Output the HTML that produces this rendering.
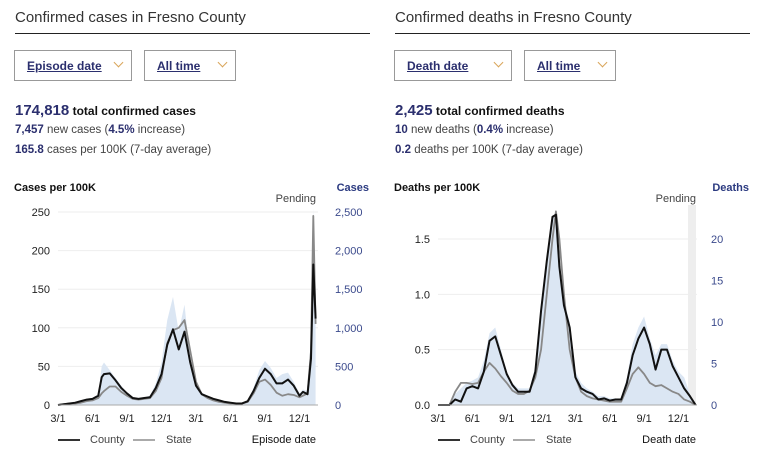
<!DOCTYPE html>
<html><head><meta charset="utf-8"><style>
body{margin:0;width:758px;height:462px;background:#fff;font-family:"Liberation Sans",sans-serif;position:relative;overflow:hidden}
.abs{position:absolute}
.title{font-size:15px;color:#333}
.rule{height:1px;background:#222}
.dd{border:1px solid #999;height:31px;box-sizing:border-box;font-size:12px;font-weight:bold;color:#2b2f6e}
.dd span{position:absolute;top:8px;text-decoration:underline}
.dd i{position:absolute;top:8px;width:6px;height:6px;border-right:1.5px solid #d9a55a;border-bottom:1.5px solid #d9a55a;transform:rotate(45deg)}
.s1{font-size:12px;font-weight:bold;color:#111}
.s1 b{font-size:15px;color:#2b2f6e}
.s2{font-size:11.5px;color:#444}
.s2 b{color:#2b2f6e}
svg text{font-family:"Liberation Sans",sans-serif}
</style></head><body>
<div class="abs title" style="left:15px;top:9px">Confirmed cases in Fresno County</div>
<div class="abs rule" style="left:15px;top:33px;width:355px"></div>
<div class="abs dd" style="left:14px;top:50px;width:118px"><span style="left:12px">Episode date</span><i style="left:100px"></i></div>
<div class="abs dd" style="left:144px;top:50px;width:92px"><span style="left:12px">All time</span><i style="left:74px"></i></div>
<div class="abs s1" style="left:15px;top:102px"><b>174,818</b> total confirmed cases</div>
<div class="abs s2" style="left:15px;top:124px"><b>7,457</b> new cases (<b>4.5%</b> increase)</div>
<div class="abs s2" style="left:15px;top:144px"><b>165.8</b> cases per 100K (7-day average)</div>

<div class="abs title" style="left:395px;top:9px">Confirmed deaths in Fresno County</div>
<div class="abs rule" style="left:395px;top:33px;width:355px"></div>
<div class="abs dd" style="left:394px;top:50px;width:118px"><span style="left:12px">Death date</span><i style="left:100px"></i></div>
<div class="abs dd" style="left:524px;top:50px;width:92px"><span style="left:12px">All time</span><i style="left:74px"></i></div>
<div class="abs s1" style="left:395px;top:102px"><b>2,425</b> total confirmed deaths</div>
<div class="abs s2" style="left:395px;top:124px"><b>10</b> new deaths (<b>0.4%</b> increase)</div>
<div class="abs s2" style="left:395px;top:144px"><b>0.2</b> deaths per 100K (7-day average)</div>

<svg class="abs" style="left:0;top:0" width="758" height="462" id="svg"></svg>
<script>
const xTickLabels=["3/1","6/1","9/1","12/1","3/1","6/1","9/1","12/1"];
const xTickMonths=[0,3,6,9,12,15,18,21];
const casesMonths=[0,0.5,1,1.5,2,2.5,3,3.5,3.8,4,4.5,5,5.5,6,6.5,7,7.5,8,8.5,9,9.5,10,10.5,11,11.5,12,12.5,13,13.5,14,14.5,15,15.5,16,16.5,17,17.5,18,18.5,19,19.5,20,20.5,21,21.3,21.7,22,22.2,22.4];
const casesCounty=[0,1,2,3,5,7,8,12,36,40,41,32,22,15,9,8,9,10,22,40,78,98,72,95,55,25,14,11,8,6,4,3,2,2,5,18,35,47,40,28,28,33,25,12,17,14,60,182,112];
const casesState=[0,1,2,2,3,5,6,9,15,18,24,24,17,12,8,7,8,9,18,35,80,97,100,110,70,30,14,9,6,4,3,2,2,2,4,15,30,33,26,16,12,14,13,10,12,15,70,245,105];
const casesBars=[0,1,2,4,6,8,9,14,50,55,45,35,25,16,10,9,10,12,28,55,110,140,95,130,60,28,16,12,9,6,4,3,2,2,6,22,45,57,48,35,40,42,30,15,20,18,90,255,105];
const deathsMonths=[0,0.5,1,1.5,2,2.5,3,3.5,4,4.5,5,5.5,6,6.5,7,7.5,8,8.5,9,9.5,10,10.3,10.6,11,11.5,12,12.5,13,13.5,14,14.5,15,15.5,16,16.5,17,17.5,18,18.5,19,19.5,20,20.5,21,21.5,22,22.5];
const deathsCounty=[0,0,0,0.05,0.03,0.15,0.17,0.15,0.3,0.58,0.62,0.45,0.28,0.18,0.12,0.12,0.12,0.3,0.85,1.3,1.7,1.72,1.25,0.9,0.7,0.25,0.15,0.12,0.1,0.05,0.06,0.04,0.05,0.05,0.2,0.45,0.6,0.7,0.55,0.32,0.5,0.5,0.35,0.25,0.15,0.08,0];
const deathsState=[0,0,0,0.12,0.2,0.2,0.19,0.2,0.3,0.38,0.33,0.26,0.2,0.13,0.1,0.1,0.13,0.25,0.5,1.0,1.5,1.75,1.5,1.0,0.5,0.25,0.12,0.08,0.06,0.05,0.04,0.03,0.03,0.03,0.15,0.28,0.34,0.28,0.2,0.17,0.18,0.15,0.12,0.1,0.05,0.03,0];
const deathsBars=[0,0,0,0.1,0.15,0.2,0.22,0.25,0.4,0.65,0.7,0.5,0.3,0.2,0.15,0.15,0.15,0.35,0.9,1.35,1.7,1.72,1.3,0.95,0.75,0.3,0.2,0.15,0.12,0.08,0.08,0.06,0.06,0.06,0.25,0.55,0.7,0.8,0.6,0.45,0.55,0.55,0.4,0.3,0.25,0.1,0];
const casesLeftTicks=[0,50,100,150,200,250];
const casesRightTicks=["0","500","1,000","1,500","2,000","2,500"];
const deathsLeftTicks=[0,0.5,1.0,1.5];
const deathsRightTicks=[0,5,10,15,20];

const svg=document.getElementById('svg');
const NS='http://www.w3.org/2000/svg';
function mk(tag,attrs,text){const e=document.createElementNS(NS,tag);for(const k in attrs)e.setAttribute(k,attrs[k]);if(text!==undefined)e.textContent=text;svg.appendChild(e);return e;}

function chart(o){
  const x=m=>o.x0+m*o.pxPerMonth;
  const y=v=>o.y0-v*o.pxPerUnit;
  if(o.band){const b=mk('rect',{x:o.band[0],y:205,width:o.band[1],height:200,fill:'#eee'});
  
  }
  o.leftTicks.forEach(t=>{
    if(t>0){const g=mk('line',{x1:o.x0,x2:o.x1,y1:y(t),y2:y(t),stroke:'#eee'});
    
    }
    const l=mk('text',{x:o.x0-8,y:y(t)+4,'text-anchor':'end','font-size':11,fill:'#222'},o.fmt(t));
    
    
  });
  o.rightTicks.forEach((t,i)=>{
    const v=o.rightVals[i];
    const l=mk('text',{x:o.rx,y:y(v)+4,'font-size':11,fill:'#3b4a8c'},t);
    
    
  });
  let d='M'+x(o.months[0])+','+y(0);
  o.months.forEach((m,i)=>{d+=' L'+x(m)+','+y(o.bars[i]);});
  d+=' L'+x(o.months[o.months.length-1])+','+y(0)+'Z';
  const a=mk('path',{d:d,fill:'#dbe6f3'});
  
  
  const line=(vals,col,w,name)=>{
    const p=mk('path',{d:o.months.map((m,i)=>(i?'L':'M')+x(m)+','+y(vals[i])).join(' '),fill:'none',stroke:col,'stroke-width':w,'stroke-linejoin':'round'});
    
    
  };
  line(o.state,'#888',1.8,o.id+'-state-line');
  line(o.county,'#111',2,o.id+'-county-line');
  const ax=mk('line',{x1:o.x0,x2:o.x1,y1:o.y0,y2:o.y0,stroke:'#aaa'});
  
  
  xTickMonths.forEach((m,i)=>{
    const t=mk('text',{x:x(m),y:422,'text-anchor':'middle','font-size':11,fill:'#222'},xTickLabels[i]);
    
    
  });
  const lt=mk('text',{x:o.x0-44,y:191,'font-size':11,'font-weight':'bold',fill:'#111'},o.leftTitle);
  
  
  const rt=mk('text',{x:o.x0+311,y:191,'text-anchor':'end','font-size':11,'font-weight':'bold',fill:'#2b3a80'},o.rightTitle);
  
  
  const pd=mk('text',{x:o.x0+258,y:202,'text-anchor':'end','font-size':11,fill:'#444'},'Pending');
  
  
  const l1=mk('line',{x1:o.x0,x2:o.x0+22,y1:440,y2:440,stroke:'#333','stroke-width':2});
  
  
  const t1=mk('text',{x:o.x0+32,y:443,'font-size':11,fill:'#444'},'County');
  
  
  const l2=mk('line',{x1:o.x0+75,x2:o.x0+97,y1:440,y2:440,stroke:'#aaa','stroke-width':2});
  
  
  const t2=mk('text',{x:o.x0+108,y:443,'font-size':11,fill:'#444'},'State');
  
  
  const t3=mk('text',{x:o.x0+258,y:443,'text-anchor':'end','font-size':11,fill:'#111'},o.dateLabel);
  
  
}
chart({id:'cases',x0:58,x1:318,y0:405,pxPerMonth:11.5,pxPerUnit:193/250,months:casesMonths,county:casesCounty,state:casesState,bars:casesBars,
  leftTicks:casesLeftTicks,fmt:v=>String(v),rightTicks:casesRightTicks,rightVals:casesLeftTicks,rx:335,leftTitle:'Cases per 100K',rightTitle:'Cases',dateLabel:'Episode date'});
chart({id:'deaths',x0:438,x1:697,y0:405,pxPerMonth:11.45,pxPerUnit:166/1.5,months:deathsMonths,county:deathsCounty,state:deathsState,bars:deathsBars,band:[688,8],
  leftTicks:deathsLeftTicks,fmt:v=>v.toFixed(1),rightTicks:deathsRightTicks.map(String),rightVals:deathsRightTicks.map(v=>v*1.5/20),rx:711,leftTitle:'Deaths per 100K',rightTitle:'Deaths',dateLabel:'Death date'});
</script>
</body></html>
